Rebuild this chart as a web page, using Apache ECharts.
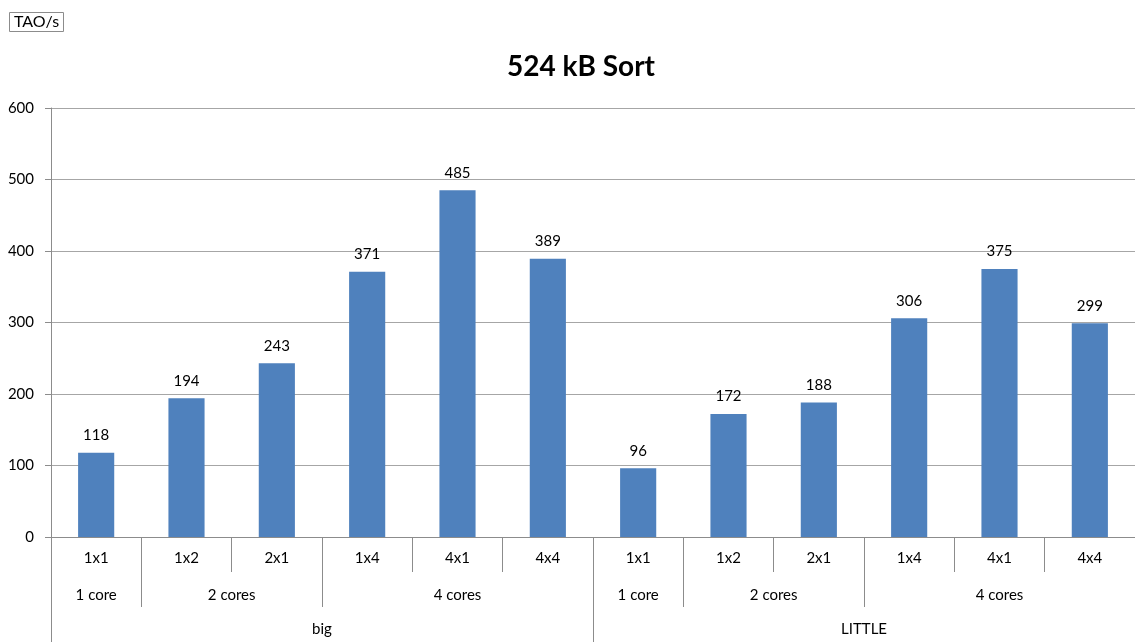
<!DOCTYPE html>
<html>
<head>
<meta charset="utf-8">
<script src="https://cdn.jsdelivr.net/npm/echarts@6/dist/echarts.min.js"></script>
<style>
  html, body { margin: 0; padding: 0; background: #fff; }
  #chart { width: 1135px; height: 643px; }
</style>
</head>
<body>
<div id="chart"></div>
<script>
// Sort throughput per thread layout, grouped by core count and cluster
const layouts = ['1x1', '1x2', '2x1', '1x4', '4x1', '4x4', '1x1', '1x2', '2x1', '1x4', '4x1', '4x4'];
const coreGroups = [['1 core', 1], ['2 cores', 2], ['4 cores', 3], ['1 core', 1], ['2 cores', 2], ['4 cores', 3]];
const clusters = [['big', 6], ['LITTLE', 6]];
const bigValues = [118, 194, 243, 371, 485, 389];
const littleValues = [96, 172, 188, 306, 375, 299];
const yTicks = [0, 100, 200, 300, 400, 500, 600];

const values = bigValues.concat(littleValues);
const FONT = 'Lato, "Open Sans", sans-serif';
const AXIS_GRAY = '#8c8c8c';
const GRID_GRAY = '#a6a6a6';

// Turn [label, span] groups into boundary positions and centred label positions
function spans(groups) {
  const bounds = [0], centers = [], names = {};
  let pos = 0;
  groups.forEach(([name, n]) => {
    const c = pos + n / 2;
    centers.push(c);
    names[c] = name;
    pos += n;
    bounds.push(pos);
  });
  return { bounds, centers, names };
}
const lvl2 = spans(coreGroups);
const lvl3 = spans(clusters);

function levelAxis(level, offset, margin) {
  return {
    type: 'value',
    position: 'bottom',
    gridIndex: 0,
    min: 0,
    max: layouts.length,
    offset: offset,
    axisLine: { show: false },
    splitLine: { show: false },
    axisTick: {
      show: true,
      customValues: level.bounds,
      length: 35,
      lineStyle: { color: AXIS_GRAY, width: 1 }
    },
    axisLabel: {
      customValues: level.centers,
      formatter: v => level.names[v] || '',
      margin: margin,
      fontSize: 15,
      color: '#000',
      fontFamily: FONT
    }
  };
}

const chart = echarts.init(document.getElementById('chart'), null, { renderer: 'canvas' });
chart.setOption({
  animation: false,
  backgroundColor: '#fff',
  title: [
    {
      text: '524 kB Sort',
      left: 576,
      top: 48,
      textAlign: 'center',
      textStyle: { fontSize: 28, fontWeight: 'bold', color: '#000', fontFamily: FONT }
    },
    {
      text: 'TAO/s',
      left: 9,
      top: 12,
      padding: [2, 5, 2, 5],
      borderColor: AXIS_GRAY,
      borderWidth: 1,
      textStyle: { fontSize: 16, fontWeight: 'normal', color: '#000', fontFamily: FONT }
    }
  ],
  grid: { left: 51, right: 0, top: 108, bottom: 106, containLabel: false },
  xAxis: [
    {
      type: 'category',
      data: layouts,
      position: 'bottom',
      axisLine: { show: true, lineStyle: { color: AXIS_GRAY, width: 1 } },
      axisTick: { show: true, interval: 0, length: 35, lineStyle: { color: AXIS_GRAY, width: 1 } },
      axisLabel: { interval: 0, margin: 14, fontSize: 15, color: '#000', fontFamily: FONT },
      splitLine: { show: false }
    },
    levelAxis(lvl2, 35, 16),
    levelAxis(lvl3, 70, 15)
  ],
  yAxis: {
    type: 'value',
    min: yTicks[0],
    max: yTicks[yTicks.length - 1],
    interval: yTicks[1] - yTicks[0],
    axisLine: { show: true, lineStyle: { color: AXIS_GRAY, width: 1 } },
    axisTick: { show: true, length: 6, lineStyle: { color: AXIS_GRAY } },
    axisLabel: { margin: 17, fontSize: 15, color: '#000', fontFamily: FONT },
    splitLine: { show: true, lineStyle: { color: GRID_GRAY, width: 1 } }
  },
  series: [{
    type: 'bar',
    xAxisIndex: 0,
    data: values,
    barWidth: '40%',
    itemStyle: { color: '#4F81BD' },
    label: {
      show: true,
      position: 'top',
      distance: 10,
      fontSize: 15,
      color: '#000',
      fontFamily: FONT
    }
  }]
});
</script>
</body>
</html>
